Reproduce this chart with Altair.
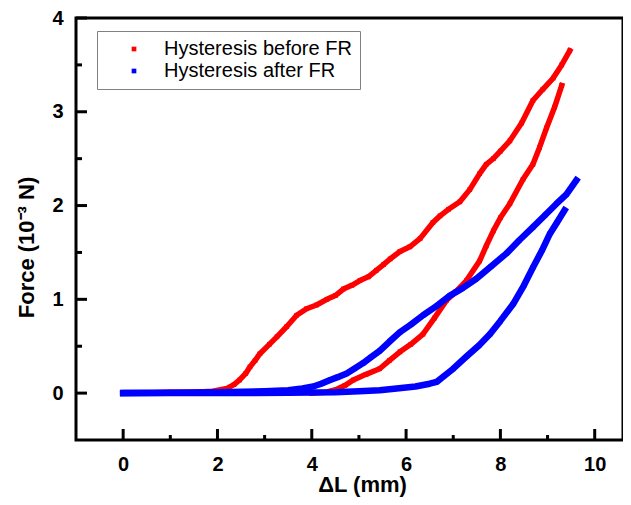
import altair as alt
import pandas as pd

series_names = ["Hysteresis before FR", "Hysteresis after FR"]
series_colors = ["#ff0000", "#0000ff"]

# Before FR: loading branch (upper) and unloading branch (lower)
red_x_load = [0.0, 0.5, 1.0, 1.5, 1.9, 2.2, 2.35, 2.47, 2.6, 2.69, 2.8, 2.9, 3.1, 3.26, 3.47, 3.68,
              3.89, 4.1, 4.32, 4.5, 4.67, 4.85, 5.02, 5.2, 5.37, 5.52, 5.66, 5.87, 6.08, 6.3, 6.57,
              6.72, 6.9, 7.14, 7.35, 7.56, 7.7, 7.85, 8.0, 8.2, 8.45, 8.69, 8.9, 9.12, 9.3, 9.47]
red_y_load = [0.0, 0.0, 0.01, 0.01, 0.02, 0.05, 0.09, 0.14, 0.21, 0.28, 0.35, 0.42, 0.52, 0.6, 0.71, 0.83,
              0.9, 0.94, 1.0, 1.04, 1.11, 1.15, 1.2, 1.24, 1.31, 1.37, 1.43, 1.51, 1.56, 1.65, 1.82,
              1.89, 1.96, 2.04, 2.17, 2.34, 2.44, 2.5, 2.58, 2.69, 2.88, 3.12, 3.24, 3.36, 3.5, 3.65]
red_x_unl = [9.3, 9.15, 8.98, 8.83, 8.69, 8.48, 8.2, 8.0, 7.85, 7.7, 7.56, 7.28, 7.05, 6.86, 6.6,
             6.36, 6.1, 5.87, 5.65, 5.44, 5.15, 4.88, 4.7, 4.53, 4.3, 4.0]
red_y_unl = [3.28, 3.05, 2.83, 2.62, 2.44, 2.28, 2.02, 1.87, 1.73, 1.57, 1.41, 1.2, 1.08, 0.99, 0.8,
             0.63, 0.52, 0.44, 0.35, 0.26, 0.2, 0.14, 0.08, 0.04, 0.01, 0.0]

# After FR
blue_x_load = [0.0, 1.0, 2.0, 3.0, 3.5, 3.8, 4.03, 4.2, 4.39, 4.55, 4.74, 4.9, 5.09, 5.25, 5.44, 5.65,
               5.87, 6.1, 6.36, 6.65, 6.93, 7.2, 7.49, 7.8, 8.13, 8.4, 8.69, 8.95, 9.19, 9.4, 9.61]
blue_y_load = [0.0, 0.005, 0.01, 0.02, 0.03, 0.05, 0.07, 0.1, 0.14, 0.17, 0.21, 0.26, 0.32, 0.38, 0.45, 0.55,
               0.65, 0.73, 0.83, 0.93, 1.04, 1.12, 1.22, 1.35, 1.49, 1.63, 1.77, 1.9, 2.02, 2.12, 2.27]
blue_x_unl = [9.36, 9.2, 9.05, 8.88, 8.69, 8.5, 8.27, 8.0, 7.78, 7.55, 7.28, 7.0, 6.8, 6.65, 6.5, 6.2,
              5.8, 5.44, 5.0, 4.5, 3.5, 2.5, 1.5, 0.5, 0.0]
blue_y_unl = [1.95, 1.82, 1.7, 1.52, 1.34, 1.15, 0.95, 0.77, 0.63, 0.51, 0.39, 0.26, 0.18, 0.12, 0.1, 0.07,
              0.05, 0.03, 0.02, 0.01, 0.005, 0.0, 0.0, 0.0, 0.0]

x_label_values = [0, 2, 4, 6, 8, 10]
x_minor_ticks = [1, 3, 5, 7, 9]
y_label_values = [0, 1, 2, 3, 4]
y_minor_ticks = [0.5, 1.5, 2.5, 3.5]

rows = []
def add(name, seg, xs, ys):
    for i, (x, y) in enumerate(zip(xs, ys)):
        rows.append({"series": name, "segment": name + seg, "i": i, "x": x, "y": y})

add(series_names[0], " load", red_x_load, red_y_load)
add(series_names[0], " unload", red_x_unl, red_y_unl)
add(series_names[1], " load", blue_x_load, blue_y_load)
add(series_names[1], " unload", blue_x_unl, blue_y_unl)
df = pd.DataFrame(rows)

W, H = 547, 422
FONT = "Liberation Sans"
xscale = alt.Scale(domain=[-1, 10.6], nice=False, zero=False)
yscale = alt.Scale(domain=[-0.5, 4], nice=False, zero=False)

x_axis = alt.Axis(values=x_label_values, ticks=False, domain=False, grid=False,
                  labelFont=FONT, labelFontWeight="bold", labelFontSize=20, labelColor="black",
                  labelPadding=14, title="ΔL (mm)", titleFont=FONT, titleFontSize=22,
                  titleFontWeight="bold", titleColor="black", titleX=286, titleY=51,
                  titleBaseline="alphabetic")
y_axis = alt.Axis(values=y_label_values, ticks=False, domain=False, grid=False,
                  labelFont=FONT, labelFontWeight="bold", labelFontSize=20, labelColor="black",
                  labelPadding=13, title="Force (10⁻³ N)", titleFont=FONT, titleFontSize=22,
                  titleFontWeight="bold", titleColor="black", titleX=-43, titleY=229,
                  titleBaseline="alphabetic")

legend = alt.Legend(title=None, orient="none", legendX=21, legendY=13,
                    symbolType="square", symbolSize=22, symbolStrokeWidth=0,
                    labelFont=FONT, labelFontSize=20, labelColor="black", labelLimit=400,
                    labelOffset=20, symbolOffset=19, padding=8, rowPadding=2,
                    strokeColor="#808080", fillColor="white")

cscale = alt.Scale(domain=series_names, range=series_colors)
X = alt.X("x:Q", scale=xscale, axis=x_axis)
Y = alt.Y("y:Q", scale=yscale, axis=y_axis)

def points(name):
    return alt.Chart(df).transform_filter(alt.datum.series == name).mark_square(
        size=22, filled=True, opacity=1, strokeWidth=0).encode(
        x=X, y=Y, color=alt.Color("series:N", scale=cscale, legend=legend))

def curve(name, sw):
    return alt.Chart(df).transform_filter(alt.datum.series == name).mark_line(
        strokeWidth=sw, strokeJoin="round", strokeCap="square").encode(
        x=X, y=Y,
        color=alt.Color("series:N", scale=cscale, legend=None),
        detail="segment:N",
        order="i:Q",
    )

red_pts = points(series_names[0])
red = curve(series_names[0], 5.5)
blue_pts = points(series_names[1])
blue = curve(series_names[1], 6.5)

rule = dict(color="black", strokeWidth=3)
xt_major = alt.Chart(pd.DataFrame({"x": x_label_values})).mark_rule(**rule).encode(
    x=X, y=alt.value(H), y2=alt.value(H - 11))
xt_minor = alt.Chart(pd.DataFrame({"x": x_minor_ticks})).mark_rule(**rule).encode(
    x=X, y=alt.value(H), y2=alt.value(H - 5))
yt_major = alt.Chart(pd.DataFrame({"y": y_label_values})).mark_rule(**rule).encode(
    y=Y, x=alt.value(0), x2=alt.value(11))
yt_minor = alt.Chart(pd.DataFrame({"y": y_minor_ticks})).mark_rule(**rule).encode(
    y=Y, x=alt.value(0), x2=alt.value(6))

chart = alt.layer(red_pts, red, blue_pts, blue, xt_major, xt_minor, yt_major, yt_minor).properties(
    width=W, height=H,
    autosize=alt.AutoSizeParams(type="none"),
    padding={"left": 68, "top": 10, "right": 0, "bottom": 57},
    background="white",
).configure_view(stroke="black", strokeWidth=3)

chart.save("out.html", embed_options={"renderer": "svg", "actions": False})
